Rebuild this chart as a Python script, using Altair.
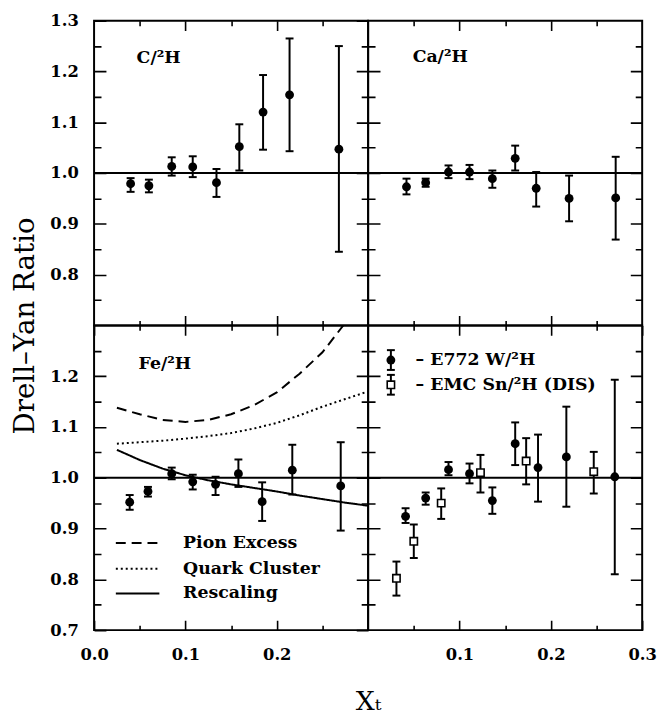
import altair as alt
import pandas as pd

# ---------------- data ----------------
c_x = [0.040, 0.060, 0.085, 0.108, 0.134, 0.159, 0.185, 0.214, 0.268]
c_y = [0.979, 0.975, 1.013, 1.012, 0.981, 1.052, 1.120, 1.154, 1.047]
c_lo = [0.963, 0.962, 0.995, 0.992, 0.953, 1.005, 1.046, 1.043, 0.845]
c_hi = [0.990, 0.987, 1.031, 1.033, 1.008, 1.096, 1.193, 1.265, 1.250]

ca_x = [0.042, 0.063, 0.088, 0.111, 0.136, 0.161, 0.184, 0.220, 0.271]
ca_y = [0.973, 0.981, 1.002, 1.002, 0.989, 1.029, 0.970, 0.950, 0.951]
ca_lo = [0.958, 0.973, 0.990, 0.988, 0.971, 1.005, 0.934, 0.905, 0.869]
ca_hi = [0.989, 0.989, 1.015, 1.016, 1.005, 1.054, 1.002, 0.995, 1.032]

fe_x = [0.039, 0.059, 0.085, 0.108, 0.133, 0.158, 0.184, 0.217, 0.270]
fe_y = [0.952, 0.973, 1.008, 0.992, 0.987, 1.008, 0.953, 1.015, 0.984]
fe_lo = [0.937, 0.963, 0.997, 0.977, 0.966, 0.982, 0.915, 0.967, 0.896]
fe_hi = [0.966, 0.982, 1.020, 1.006, 1.002, 1.036, 0.991, 1.065, 1.070]

w_x = [0.041, 0.063, 0.088, 0.111, 0.136, 0.161, 0.186, 0.217, 0.270]
w_y = [0.924, 0.960, 1.016, 1.008, 0.955, 1.067, 1.020, 1.041, 1.002]
w_lo = [0.911, 0.947, 1.005, 0.989, 0.929, 1.025, 0.953, 0.943, 0.810]
w_hi = [0.940, 0.971, 1.031, 1.028, 0.981, 1.109, 1.085, 1.140, 1.193]

sn_x = [0.031, 0.050, 0.080, 0.123, 0.173, 0.247]
sn_y = [0.802, 0.875, 0.950, 1.010, 1.033, 1.012]
sn_lo = [0.768, 0.842, 0.919, 0.971, 0.987, 0.969]
sn_hi = [0.835, 0.908, 0.979, 1.045, 1.078, 1.051]

pion_x = [0.025, 0.05, 0.075, 0.10, 0.125, 0.15, 0.175, 0.20, 0.225, 0.25, 0.275]
pion_y = [1.138, 1.125, 1.114, 1.110, 1.114, 1.125, 1.143, 1.168, 1.205, 1.247, 1.305]

quark_x = [0.025, 0.05, 0.075, 0.10, 0.125, 0.15, 0.175, 0.20, 0.225, 0.25, 0.275, 0.30]
quark_y = [1.067, 1.070, 1.073, 1.077, 1.082, 1.088, 1.097, 1.108, 1.123, 1.140, 1.155, 1.170]

resc_x = [0.025, 0.05, 0.075, 0.10, 0.125, 0.15, 0.175, 0.20, 0.225, 0.25, 0.275, 0.30]
resc_y = [1.055, 1.035, 1.018, 1.005, 0.995, 0.987, 0.980, 0.973, 0.965, 0.958, 0.951, 0.945]

curve_names = ["Pion Excess", "Quark Cluster", "Rescaling"]
series_names = ["– E772 W/²H", "– EMC Sn/²H (DIS)"]
panel_names = ["C/²H", "Ca/²H", "Fe/²H"]

# tick positions (every 0.05; labels only at every 0.1)
x_ticks_inner = [0.05, 0.1, 0.15, 0.2, 0.25]
x_ticks_left = [0.0, 0.05, 0.1, 0.15, 0.2, 0.25]
x_ticks_right = [0.05, 0.1, 0.15, 0.2, 0.25, 0.3]
y_ticks_inner = [0.75, 0.8, 0.85, 0.9, 0.95, 1.0, 1.05, 1.1, 1.15, 1.2, 1.25]
y_ticks_top = [0.75, 0.8, 0.85, 0.9, 0.95, 1.0, 1.05, 1.1, 1.15, 1.2, 1.25, 1.3]
y_ticks_bottom = [0.7, 0.75, 0.8, 0.85, 0.9, 0.95, 1.0, 1.05, 1.1, 1.15, 1.2, 1.25]

unity = [1.0]

X_DOM = [0.0, 0.3]
Y_DOM = [0.7, 1.3]
W, H = 277, 308
FONT = "DejaVu Serif"
XMAJ, XMIN = 10, 5      # tick lengths (px) on the horizontal borders
YMAJ, YMIN = 12, 7      # tick lengths (px) on the vertical borders

MAJOR_TEST = "abs(datum.value*10 - round(datum.value*10)) < 0.001"
LABEL_EXPR = MAJOR_TEST + " ? datum.label : ''"

one = pd.DataFrame({"d": [0]})


def df_pts(x, y, lo, hi):
    return pd.DataFrame({"x": x, "y": y, "lo": lo, "hi": hi})


# grid lines dashed so that only a short piece at each end of the line is drawn:
# they act as inward ticks on both opposite borders of a panel
def x_grid_dash():
    return {"condition": {"test": MAJOR_TEST, "value": [XMAJ, H - 2 * XMAJ, XMAJ]},
            "value": [XMIN, H - 2 * XMIN, XMIN]}


def y_grid_dash():
    return {"condition": {"test": MAJOR_TEST, "value": [YMAJ, W - 2 * YMAJ, YMAJ]},
            "value": [YMIN, W - 2 * YMIN, YMIN]}


lab_style = dict(labelFont=FONT, labelFontSize=16.5, labelFontWeight="bold",
                 labelColor="black", labelOverlap=False, labelFlush=False,
                 format=".1f", labelExpr=LABEL_EXPR)
grid_style = dict(ticks=False, domain=False, grid=True, gridColor="black",
                  gridOpacity=1, gridWidth=1.6)


def x_axis(values, labels, **kw):
    extra = dict(lab_style, labelPadding=17) if labels else dict(labels=False)
    extra.update(kw)
    if "title" not in extra:
        extra["title"] = None
    return alt.Axis(values=values, gridDash=x_grid_dash(), **grid_style, **extra)


def y_axis(values, labels, **kw):
    extra = dict(lab_style, labelPadding=16) if labels else dict(labels=False)
    extra.update(kw)
    if "title" not in extra:
        extra["title"] = None
    return alt.Axis(values=values, gridDash=y_grid_dash(), **grid_style, **extra)


def make_panel(xaxis, yaxis):
    xs = alt.Scale(domain=X_DOM, nice=False, zero=False)
    ys = alt.Scale(domain=Y_DOM, nice=False, zero=False)

    def X(f):
        return alt.X(f, type="quantitative", scale=xs, axis=xaxis)

    def Y(f):
        return alt.Y(f, type="quantitative", scale=ys, axis=yaxis)

    layers = [
        alt.Chart(pd.DataFrame({"v": unity, "u": [X_DOM[0]]})).mark_rule(
            color="black", strokeWidth=2).encode(y=Y("v"), x=X("u"), x2=alt.value(W)),
    ]
    return layers, X, Y


def errbars(d, X, Y, open_square=False):
    base = alt.Chart(d)
    out = [
        base.mark_rule(color="black", strokeWidth=2).encode(x=X("x"), y=Y("lo"), y2="hi"),
        base.mark_tick(orient="horizontal", color="black", size=8, thickness=2, opacity=1).encode(
            x=X("x"), y=Y("lo")),
        base.mark_tick(orient="horizontal", color="black", size=8, thickness=2, opacity=1).encode(
            x=X("x"), y=Y("hi")),
    ]
    if open_square:
        out.append(base.mark_point(shape="square", filled=True, fill="white", stroke="black",
                                   strokeWidth=1.6, size=55, opacity=1).encode(x=X("x"), y=Y("y")))
    else:
        out.append(base.mark_circle(color="black", size=80, opacity=1).encode(x=X("x"), y=Y("y")))
    return out


def label(text, px, py, size=17.5):
    return alt.Chart(one).mark_text(font=FONT, fontSize=size, fontWeight="bold",
                                    align="left", baseline="middle", color="black").encode(
        x=alt.value(px), y=alt.value(py), text=alt.value(text))


# ---- top-left: C ----
L, X, Y = make_panel(x_axis(x_ticks_inner, False), y_axis(y_ticks_top, True))
L += errbars(df_pts(c_x, c_y, c_lo, c_hi), X, Y)
L.append(label(panel_names[0], 43, 38))
p_tl = alt.layer(*L).properties(width=W, height=H)

# ---- top-right: Ca ----
L, X, Y = make_panel(x_axis(x_ticks_inner, False), y_axis(y_ticks_inner, False))
L += errbars(df_pts(ca_x, ca_y, ca_lo, ca_hi), X, Y)
L.append(label(panel_names[1], 45, 37))
p_tr = alt.layer(*L).properties(width=W, height=H)

# ---- bottom-left: Fe ----
ax_x_bl = x_axis(x_ticks_left, True, title="Xₜ", titleFont=FONT, titleFontSize=27,
                 titleFontWeight="normal", titleColor="black", titleX=W, titleY=72,
                 titleBaseline="middle", titleAlign="center")
ax_y_bl = y_axis(y_ticks_bottom, True, title="Drell–Yan Ratio", titleFont=FONT,
                 titleFontSize=28, titleFontWeight="normal", titleColor="black",
                 titleY=0, titlePadding=11)
L, X, Y = make_panel(ax_x_bl, ax_y_bl)
curves = [
    (pion_x, pion_y, [10, 6]),
    (quark_x, quark_y, [2, 3]),
    (resc_x, resc_y, [1, 0]),
]
for cx, cy, dash in curves:
    L.append(alt.Chart(pd.DataFrame({"x": cx, "y": cy})).mark_line(
        color="black", strokeWidth=2, strokeDash=dash, clip=True).encode(x=X("x"), y=Y("y")))
L += errbars(df_pts(fe_x, fe_y, fe_lo, fe_hi), X, Y)
L.append(label(panel_names[2], 45, 39))
leg_y = [220, 246, 271]
for (cx, cy, dash), name, ly in zip(curves, curve_names, leg_y):
    L.append(alt.Chart(one).mark_rule(color="black", strokeWidth=2, strokeDash=dash).encode(
        x=alt.value(22), x2=alt.value(66), y=alt.value(ly)))
    L.append(label(name, 90, ly))
p_bl = alt.layer(*L).properties(width=W, height=H)

# ---- bottom-right: W and Sn ----
L, X, Y = make_panel(x_axis(x_ticks_right, True), y_axis(y_ticks_inner, False))
L += errbars(df_pts(w_x, w_y, w_lo, w_hi), X, Y)
L += errbars(df_pts(sn_x, sn_y, sn_lo, sn_hi), X, Y, open_square=True)
for i, (name, ly) in enumerate(zip(series_names, [35, 60])):
    L.append(alt.Chart(one).mark_rule(color="black", strokeWidth=2).encode(
        x=alt.value(23), y=alt.value(ly - 10), y2=alt.value(ly + 10)))
    for yy in (ly - 10, ly + 10):
        L.append(alt.Chart(one).mark_tick(orient="horizontal", color="black", size=8,
                                          thickness=2, opacity=1).encode(
            x=alt.value(23), y=alt.value(yy)))
    if i == 0:
        L.append(alt.Chart(one).mark_circle(color="black", size=80, opacity=1).encode(
            x=alt.value(23), y=alt.value(ly)))
    else:
        L.append(alt.Chart(one).mark_point(shape="square", filled=True, fill="white",
                                           stroke="black", strokeWidth=1.6, size=55,
                                           opacity=1).encode(x=alt.value(23), y=alt.value(ly)))
    L.append(label(name, 48, ly))
p_br = alt.layer(*L).properties(width=W, height=H)

chart = alt.concat(p_tl, p_tr, p_bl, p_br, columns=2, spacing=0, bounds="flush").properties(
    padding={"left": 2, "top": 0, "right": 0, "bottom": 0}
).configure_view(stroke="black", strokeWidth=2)

chart.save("out.html", embed_options={"renderer": "svg", "actions": False})
